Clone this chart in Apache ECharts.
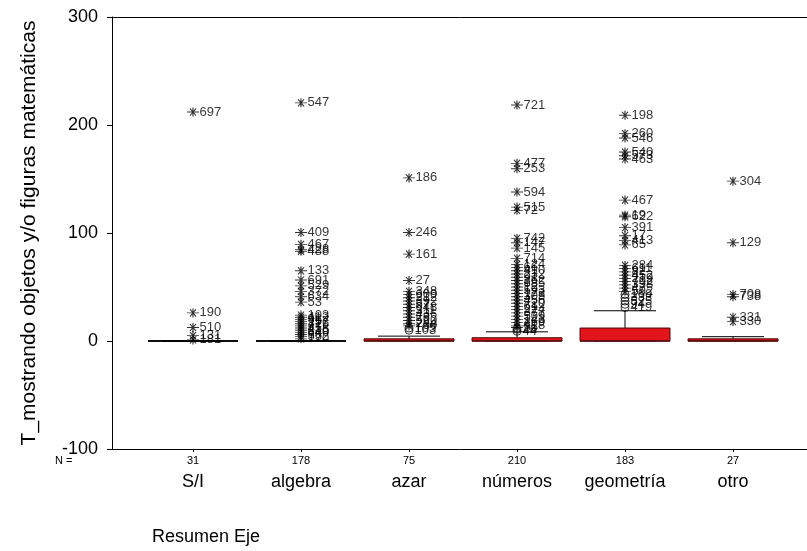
<!DOCTYPE html>
<html><head><meta charset="utf-8">
<script src="https://cdn.jsdelivr.net/npm/echarts@6/dist/echarts.min.js"></script>
<style>html,body{margin:0;padding:0;background:#fff}#c{width:807px;height:551px}</style>
</head><body><div id="c"></div>
<script>
const categories = ['S/I', 'algebra', 'azar', 'números', 'geometría', 'otro'];
const counts = [31, 178, 75, 210, 183, 27];
// [lower whisker, Q1, median, Q3, upper whisker]
const boxStats = [
  [0, 0, 0, 0, 0],
  [0, 0, 0, 0, 0],
  [0, 0, 0, 2, 4.5],
  [0, 0, 0, 3, 8.5],
  [0, 0, 0, 12, 28],
  [0, 0, 0, 2, 4]
];
// extreme cases (asterisks): values and case numbers per category
const extremeValues = [
  [212, 26, 12.5, 5, 1],
  [220.5, 100.5, 89.5, 84.5, 83, 65, 56.5, 51, 46, 41, 36, 24, 22, 20, 18, 16, 14, 12, 10, 8, 6, 4, 2],
  [151, 100.5, 80.5, 56, 46, 43, 40, 37, 34, 31, 28, 25, 22, 19, 16, 14],
  [218.5, 164.5, 159.5, 138, 124, 121, 95, 91, 86, 76.5, 71, 68, 65, 62, 59, 56, 53, 50, 47, 44, 41, 38, 35, 32, 29, 26, 23, 20, 17, 14, 12.5],
  [209, 192, 188, 175, 171.5, 168.5, 130.5, 116.5, 115, 105, 97.5, 93, 89, 70, 67, 64, 61, 58, 55, 52, 49, 46],
  [148, 91, 43, 41, 22, 18]
];
const extremeCases = [
  ['697', '190', '510', '131', '181'],
  ['547', '409', '467', '428', '488', '133', '691', '529', '372', '634', '53', '103', '412', '96', '257', '316', '77', '458', '215', '640', '38', '552', '170'],
  ['186', '246', '161', '27', '348', '600', '212', '392', '57', '648', '311', '436', '78', '520', '284', '730'],
  ['721', '477', '253', '594', '515', '72', '742', '147', '145', '714', '124', '66', '410', '232', '91', '362', '685', '12', '593', '173', '305', '456', '720', '61', '224', '377', '509', '143', '269', '618', '35'],
  ['198', '260', '546', '540', '573', '463', '467', '19', '622', '391', '17', '413', '65', '284', '611', '82', '452', '219', '702', '338', '47', '592'],
  ['304', '129', '708', '738', '331', '330']
];
// outliers (circles)
const outlierValues = [[], [], [12, 10], [11, 9], [43, 40, 37, 34, 31], []];
const outlierCases = [[], [], ['105', '103'], ['26', '44'], ['160', '333', '525', '94', '419'], []];

const FONT = 'Liberation Sans, Arial, sans-serif';
const boxData = boxStats.map((s, i) => [i].concat(s));
const extremeData = [];
extremeValues.forEach((arr, i) => arr.forEach((v, j) => extremeData.push({ value: [i, v], name: extremeCases[i][j] })));
const outlierData = [];
outlierValues.forEach((arr, i) => arr.forEach((v, j) => outlierData.push({ value: [i, v], name: outlierCases[i][j] })));

const starPath = 'path://M0,5L12,5M3,1L9,9M3,9L9,1M6,0L6,10';
const catIdx = categories.map((c, i) => i);

const chart = echarts.init(document.getElementById('c'), null, { renderer: 'canvas' });
chart.setOption({
  backgroundColor: '#fff',
  animation: false,
  grid: { left: 112, right: 0, top: 17, bottom: 102, containLabel: false },
  xAxis: [{
    type: 'value', min: -0.75, max: 5.685, position: 'bottom',
    axisLine: { show: true, onZero: false, lineStyle: { color: '#000', width: 1 } },
    axisTick: { show: true, customValues: catIdx, length: 3, lineStyle: { color: '#000' } },
    splitLine: { show: false },
    axisLabel: {
      customValues: catIdx, margin: 3, color: '#000',
      formatter: v => '{n|' + counts[Math.round(v)] + '}\n{c|' + categories[Math.round(v)] + '}',
      rich: {
        n: { fontSize: 11, lineHeight: 17, fontFamily: FONT, color: '#000' },
        c: { fontSize: 18, lineHeight: 26, fontFamily: FONT, color: '#000' }
      }
    }
  }, {
    type: 'value', min: -0.75, max: 5.685, position: 'top',
    axisLine: { show: true, onZero: false, lineStyle: { color: '#000', width: 1 } },
    axisTick: { show: false }, axisLabel: { show: false }, splitLine: { show: false }
  }],
  yAxis: {
    type: 'value', min: -100, max: 300, interval: 100,
    axisLine: { show: true, onZero: false, lineStyle: { color: '#000', width: 1 } },
    axisTick: { show: true, length: 5, lineStyle: { color: '#000' } },
    splitLine: { show: false },
    axisLabel: { fontSize: 18, color: '#000', fontFamily: FONT, margin: 14 },
    name: 'T_mostrando objetos y/o figuras matemáticas',
    nameLocation: 'middle', nameGap: 72,
    nameTextStyle: { fontSize: 21, color: '#000', fontFamily: FONT }
  },
  graphic: [
    { type: 'text', left: 55, top: 455, style: { text: 'N =', fontSize: 11, fill: '#000', fontFamily: FONT } },
    { type: 'text', left: 152, top: 528, style: { text: 'Resumen Eje', fontSize: 18, fill: '#000', fontFamily: FONT } }
  ],
  series: [{
    type: 'custom',
    data: boxData,
    encode: { x: 0, y: [1, 2, 3, 4, 5] },
    renderItem: (params, api) => {
      const i = api.value(0);
      const lo = api.value(1), q1 = api.value(2), md = api.value(3), q3 = api.value(4), hi = api.value(5);
      const cx = api.coord([i, md])[0];
      const hw = api.size([0.833, 0])[0] / 2;
      const cw = api.size([0.574, 0])[0] / 2;
      const yLo = api.coord([i, lo])[1], yQ1 = api.coord([i, q1])[1], yMd = api.coord([i, md])[1];
      const yQ3 = api.coord([i, q3])[1], yHi = api.coord([i, hi])[1];
      const ls = { stroke: '#000', lineWidth: 1 };
      return {
        type: 'group',
        children: [
          { type: 'line', shape: { x1: cx, y1: yQ3, x2: cx, y2: yHi }, style: ls },
          { type: 'line', shape: { x1: cx - cw, y1: yHi, x2: cx + cw, y2: yHi }, style: ls },
          { type: 'line', shape: { x1: cx, y1: yQ1, x2: cx, y2: yLo }, style: ls },
          { type: 'line', shape: { x1: cx - cw, y1: yLo, x2: cx + cw, y2: yLo }, style: ls },
          { type: 'rect', shape: { x: cx - hw, y: yQ3, width: hw * 2, height: Math.max(yQ1 - yQ3, 0) },
            style: { fill: q3 > q1 ? '#e3141c' : 'none', stroke: q3 > q1 ? '#4a0808' : '#000', lineWidth: 1 } },
          { type: 'line', shape: { x1: cx - hw, y1: yMd, x2: cx + hw, y2: yMd },
            style: { stroke: q3 > q1 ? '#5a0c0c' : '#000', lineWidth: 1.5 } }
        ]
      };
    }
  }, {
    type: 'scatter',
    data: outlierData,
    symbol: 'circle', symbolSize: 8,
    itemStyle: { color: 'transparent', borderColor: '#000', borderWidth: 1 },
    label: { show: true, position: 'right', distance: 1, formatter: p => p.name, fontSize: 13, color: '#000', fontFamily: FONT }
  }, {
    type: 'scatter',
    data: extremeData,
    symbol: starPath, symbolSize: [12, 9],
    itemStyle: { color: 'transparent', borderColor: '#000', borderWidth: 1 },
    label: { show: true, position: 'right', distance: 0, formatter: p => p.name, fontSize: 13, color: '#000', fontFamily: FONT }
  }]
});
</script>
</body></html>
